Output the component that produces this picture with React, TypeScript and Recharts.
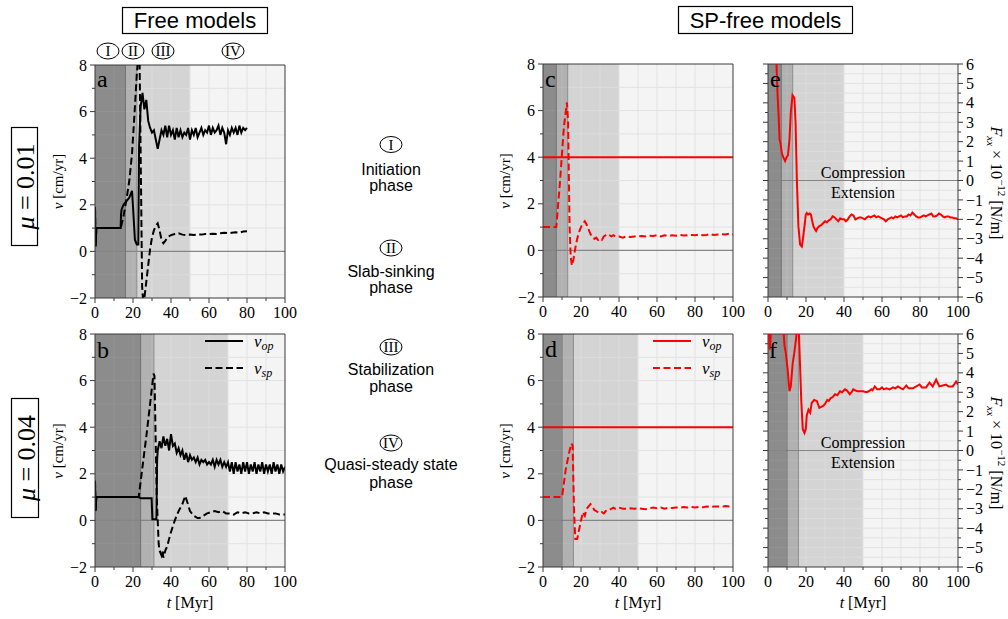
import React from "react";
import { LineChart, Line, XAxis, YAxis, ReferenceArea, ReferenceLine } from "recharts";

const SERIF = "'Liberation Serif', 'DejaVu Serif', serif";
const SANS = "'Liberation Sans', Arial, sans-serif";
const AXIS = "#3a3a3a";
const PHASE_FILL = ["#8c8c8c", "#b1b1b1", "#d4d4d4", "#f4f4f4"];
const PHASE_GRID = ["#939393", "#b9b9b9", "#dcdcdc", "#e2e2e2"];

// ticks / grid
const xTicks = [0, 10, 20, 30, 40, 50, 60, 70, 80, 90, 100];
const xGrid = [10, 20, 30, 40, 50, 60, 70, 80, 90];
const vTicks = [-2, -1, 0, 1, 2, 3, 4, 5, 6, 7, 8];
const vGrid = [-1, 1, 2, 3, 4, 5, 6, 7];
const fTicks = [-6, -5.5, -5, -4.5, -4, -3.5, -3, -2.5, -2, -1.5, -1, -0.5, 0, 0.5, 1, 1.5, 2, 2.5, 3, 3.5, 4, 4.5, 5, 5.5, 6];
const fGrid = [-5.5, -5, -4.5, -4, -3.5, -3, -2.5, -2, -1.5, -1, -0.5, 0.5, 1, 1.5, 2, 2.5, 3, 3.5, 4, 4.5, 5, 5.5];

// phase boundaries [Myr]: I | II | III | IV
const phasesA = [0, 16, 22, 50, 100];
const phasesB = [0, 24, 31, 70, 100];
const phasesC = [0, 7, 13, 40, 100];
const phasesD = [0, 10, 16, 50, 100];

// [t, v] series
const opA: [number, number][] = [[0,1.9],[0.3,0.2],[0.7,1],[13.5,1],[13.7,1.6],[14,1.8],[15,2],[16,2.1],[17,2.2],[18,2.3],[19,2.5],[19.5,2.6],[20.3,1.5],[21,0.5],[22,0.3],[22.8,0.3],[23.2,4.5],[24,6.2],[25,6.8],[26,6.1],[27,6.5],[28,5.6],[29,5.3],[30,5.1],[31,5.2],[32,4.8],[33,4.4],[34,4.8],[35,5.2],[36,5],[37,5.4],[38,4.9],[39,5.4],[40,5],[41,5.2],[42,4.8],[43,5.3],[44,4.9],[45,5.2],[46,4.9],[47,5.1],[48,5],[49,5.3],[50,4.8],[51,5.2],[52,5],[53,5.3],[54,4.9],[55,5.1],[56,5.3],[57,5],[58,5.2],[59,5.1],[60,5.4],[61,5],[62,5.3],[63,5.1],[64,5.2],[65,5.4],[66,5],[67,5.3],[68,5.1],[69,4.6],[70,5.2],[71,5],[72,5.3],[73,5.1],[74,5.3],[75,5],[76,5.4],[77,5.1],[78,5.3],[79,5.2],[80,5.3]];
const spA: [number, number][] = [[0,1.9],[0.3,0.2],[0.7,1],[13.5,1],[15,1.5],[16.5,2.2],[18,3],[19.5,4.2],[21,6.2],[22,7.6],[23,8.6],[23.4,8.6],[24.2,3],[24.8,-1.5],[25.3,-2.1],[26,-2],[27,-1.3],[28,-0.6],[29,0.1],[30,0.6],[31,0.9],[32,1.1],[33,1.2],[34,0.9],[35,0.5],[36,0.35],[37,0.45],[38,0.6],[39,0.65],[40,0.7],[42,0.75],[44,0.78],[46,0.72],[48,0.7],[50,0.72],[52,0.7],[54,0.72],[56,0.72],[58,0.75],[60,0.74],[62,0.76],[64,0.75],[66,0.78],[68,0.8],[70,0.78],[72,0.8],[74,0.82],[76,0.8],[78,0.85],[80,0.86]];

const opB: [number, number][] = [[0,1.7],[0.3,0.4],[0.7,1],[23,1],[24,0.95],[29.8,0.95],[30.2,0.05],[32.3,0.05],[32.7,2.6],[33,3],[34,3.4],[35,3.1],[36,3.6],[37,3.2],[38,3.5],[39,3],[40,3.7],[41,3.2],[42,3.3],[43,2.9],[44,3.1],[45,2.8],[46,3],[47,2.6],[48,2.9],[49,2.5],[50,2.8],[51,2.6],[52,2.7],[53,2.5],[54,2.7],[55,2.4],[56,2.6],[57,2.5],[58,2.6],[59,2.4],[60,2.5],[61,2.4],[62,2.6],[63,2.3],[64,2.6],[65,2.4],[66,2.6],[67,2.3],[68,2.5],[69,2.3],[70,2.5],[71,2.1],[72,2.5],[73,2],[74,2.5],[75,2.1],[76,2.4],[77,2],[78,2.5],[79,2.1],[80,2.5],[81,2],[82,2.4],[83,2.1],[84,2.5],[85,2],[86,2.4],[87,2.1],[88,2.5],[89,2],[90,2.4],[91,2.1],[92,2.4],[93,2],[94,2.5],[95,2.1],[96,2.4],[97,2],[98,2.4],[99,2.1],[100,2.3]];
const spB: [number, number][] = [[0,1.7],[0.3,0.4],[0.7,1],[23,1],[25,2.3],[27,3.6],[29,5],[30.8,6.3],[31.3,6.2],[32.5,1],[33.5,-1],[34,-1.3],[35,-1.5],[35.5,-1.3],[36,-1.6],[37,-1.3],[38,-1.1],[39,-0.8],[40,-0.5],[42,0],[44,0.4],[46,0.7],[47.5,1.05],[48.5,0.8],[50,0.4],[52,0.2],[54,0.1],[55,0.1],[57,0.2],[59,0.3],[61,0.35],[63,0.4],[65,0.35],[67,0.4],[69,0.3],[71,0.3],[73,0.25],[75,0.35],[77,0.3],[79,0.35],[81,0.3],[83,0.3],[85,0.35],[87,0.3],[89,0.35],[91,0.3],[93,0.3],[95,0.3],[97,0.25],[100,0.25]];

const opC: [number, number][] = [[0,4],[100,4]];
const spC: [number, number][] = [[0,1],[7,1],[9,3],[11,5.3],[12.6,6.35],[13.2,5.5],[14,1],[14.6,-0.3],[15.2,-0.65],[16,-0.4],[17,0.1],[18,0.5],[19,0.8],[20,1],[21,1.15],[22,1.25],[23,1.1],[24,0.9],[25,0.7],[26,0.55],[27,0.5],[28,0.55],[29,0.45],[30,0.5],[31,0.45],[32,0.6],[33,0.65],[34,0.7],[35,0.65],[36,0.6],[37,0.65],[38,0.6],[40,0.6],[42,0.55],[44,0.6],[46,0.58],[48,0.6],[50,0.6],[52,0.62],[54,0.6],[56,0.63],[58,0.62],[60,0.65],[62,0.6],[64,0.65],[66,0.62],[68,0.65],[70,0.63],[72,0.66],[74,0.64],[76,0.65],[78,0.66],[80,0.65],[82,0.68],[84,0.65],[86,0.66],[88,0.7],[90,0.66],[92,0.68],[94,0.7],[96,0.68],[98,0.72],[100,0.68]];

const opD: [number, number][] = [[0,4],[100,4]];
const spD: [number, number][] = [[0,1],[10,1],[11,1.6],[12,2.2],[13,2.6],[14,3],[15,3.3],[15.6,3.2],[16.3,0.5],[17,-0.8],[18,-0.8],[19,-0.4],[20,0],[21,0.35],[22,0.2],[23,0.5],[24,0.6],[25,0.7],[26,0.6],[27,0.45],[28,0.4],[29,0.35],[30,0.3],[31,0.35],[32,0.3],[33,0.4],[34,0.4],[35,0.45],[36,0.5],[37,0.55],[38,0.5],[40,0.55],[42,0.5],[44,0.5],[46,0.52],[48,0.5],[50,0.52],[52,0.5],[54,0.48],[56,0.52],[58,0.55],[60,0.52],[62,0.55],[64,0.5],[66,0.55],[68,0.53],[70,0.55],[72,0.55],[74,0.57],[76,0.55],[78,0.58],[80,0.55],[82,0.58],[84,0.56],[86,0.6],[88,0.57],[90,0.6],[92,0.6],[94,0.58],[96,0.62],[98,0.6],[100,0.6]];

// Fxx x 1e-12 [N/m]
const fxE: [number, number][] = [[0,9],[3,8],[4.4,6.2],[5,4.5],[5.6,3.3],[6.1,2.1],[6.6,1.9],[7.3,1.4],[8,1.2],[9,1],[9.8,1.2],[10.5,1.3],[11.3,2.1],[12,3.5],[12.9,4.4],[13.9,4.25],[14.5,3],[15.2,0],[16,-2.35],[16.9,-3.3],[17.8,-3.4],[18.4,-3],[19,-2.5],[19.5,-2.1],[19.9,-1.75],[20.4,-1.67],[21,-1.75],[22,-1.7],[22.6,-1.75],[23.3,-2.1],[23.9,-2.35],[24.6,-2.5],[25.3,-2.6],[26,-2.45],[27,-2.35],[28,-2.3],[29,-2.2],[30,-2.1],[31,-2.15],[32,-2.05],[33,-2],[34,-1.85],[35,-1.9],[36,-2],[37,-2.1],[38,-1.95],[39,-2],[40,-2],[41,-2.1],[42,-2],[43,-1.85],[44,-1.75],[45,-1.8],[46,-2],[47,-1.95],[48,-1.9],[49,-1.9],[50,-1.95],[51,-2],[52,-1.9],[53,-1.85],[54,-1.9],[55,-1.85],[56,-1.8],[57,-1.9],[58,-1.85],[59,-1.9],[60,-1.95],[61,-2],[62,-2.1],[63,-2],[64,-1.95],[65,-1.9],[66,-1.95],[67,-1.85],[68,-1.9],[69,-1.85],[70,-1.8],[71,-1.9],[72,-1.85],[73,-1.85],[74,-1.75],[75,-1.8],[76,-1.65],[77,-1.75],[78,-1.85],[79,-1.9],[80,-1.9],[81,-1.85],[82,-1.8],[83,-1.85],[84,-1.8],[85,-1.75],[86,-1.7],[87,-1.85],[88,-1.85],[89,-1.8],[90,-1.7],[91,-1.75],[92,-1.85],[93,-1.9],[94,-1.85],[95,-1.85],[96,-1.9],[97,-1.9],[98,-1.95],[99,-1.95],[100,-2]];
const fxF: [number, number][] = [[0,8],[0.5,6.6],[0.9,5.2],[1.3,5.6],[1.8,7],[4,8],[7,8],[8,6.4],[8.7,5.4],[9.4,5],[10.3,4.2],[11.3,3.05],[12,3.3],[13,4.5],[13.8,5],[14.7,5.7],[15.2,6.2],[16.2,6.2],[16.9,4.3],[17.5,2.6],[18.3,1.1],[19.2,0.9],[19.9,1.1],[20.4,1.8],[21.3,2.1],[22.2,1.95],[23,2.45],[24.3,2.6],[25.7,2.55],[27,2.2],[28,2.25],[29,2.3],[30,2.4],[31.2,2.6],[32,2.55],[33,2.7],[34,2.75],[35.3,2.9],[36.5,2.85],[37.9,3.05],[39,3],[40.5,3.15],[41.5,3.1],[43,2.9],[44,3],[44.9,3.15],[46,3.1],[47,3.05],[48.3,3.05],[50,3.05],[51.8,3],[53,3.05],[54.4,3.15],[55,3.1],[56.2,3.3],[57.5,3.15],[58.8,3.15],[60,3.25],[61,3.15],[62.3,3.2],[64,3.15],[65.8,3.25],[67,3.2],[68.4,3.3],[70,3.2],[71,3.15],[72.8,3.35],[74,3.2],[76.3,3.2],[78,3.3],[79.8,3.4],[81,3.25],[83.2,3.25],[85,3.5],[86.7,3.3],[88.5,3.65],[90.2,3.3],[92,3.35],[93.7,3.4],[95,3.3],[97.2,3.3],[98,3.4],[99,3.55],[100,3.4]];

const pts = (s: [number, number][]) => s.map(([t, v]) => ({ t, v }));

const PW = 190;
const PH = 233;
const LEFT_W = 50;
const TOP = 14;
const BOTTOM_H = 30;
const RIGHT_PAD = 16;

const fmt = (v: number) => (v < 0 ? "\u2212" + Math.abs(v) : String(v));

function XTick(props: any) {
  const { x, y, payload } = props;
  const v = payload.value as number;
  const major = v % 20 === 0;
  return (
    <g>
      <line x1={x} x2={x} y1={y} y2={y + (major ? 5 : 3)} stroke={AXIS} />
      {major && (
        <text x={x} y={y + 20} textAnchor="middle" fontSize={16} fontFamily={SERIF} fill="#000">
          {v}
        </text>
      )}
    </g>
  );
}

function YTick(props: any) {
  const { x, y, payload, step, side, showLabel } = props;
  const v = payload.value as number;
  const isMajor = Math.abs(v / step - Math.round(v / step)) < 1e-6;
  const dir = side === "left" ? -1 : 1;
  const len = isMajor ? 5 : 3;
  return (
    <g>
      <line x1={x} x2={x + dir * len} y1={y} y2={y} stroke={AXIS} />
      {showLabel && isMajor && (
        <text x={x + dir * 8} y={y} dy="0.35em" textAnchor={side === "left" ? "end" : "start"} fontSize={16} fontFamily={SERIF} fill="#000">
          {fmt(v)}
        </text>
      )}
    </g>
  );
}

type Series = { data: { t: number; v: number }[]; color: string; dashed?: boolean };

function Panel({ left, top, phases, series, force }: { left: number; top: number; phases: number[]; series: Series[]; force?: boolean }) {
  const domain: [number, number] = force ? [-6, 6] : [-2, 8];
  const ticks = force ? fTicks : vTicks;
  const grid = force ? fGrid : vGrid;
  const step = force ? 1 : 2;
  const rightW = force ? 42 : 1;
  const regionOf = (x: number) => phases.findIndex((p, i) => i < phases.length - 1 && x >= p && x < phases[i + 1]);
  return (
    <div style={{ position: "absolute", left: left - LEFT_W, top: top - TOP }}>
      <LineChart width={LEFT_W + PW + rightW + RIGHT_PAD} height={TOP + PH + BOTTOM_H}
        margin={{ top: TOP, right: RIGHT_PAD, bottom: 0, left: 0 }}>
        <XAxis dataKey="t" type="number" domain={[0, 100]} ticks={xTicks} interval={0} allowDataOverflow height={BOTTOM_H}
          stroke={AXIS} tickLine={false} tickSize={0} tickMargin={0} tick={(p: any) => <XTick {...p} />} />
        <YAxis type="number" domain={domain} ticks={ticks} interval={0} allowDataOverflow width={LEFT_W}
          stroke={AXIS} tickLine={false} tickSize={0} tickMargin={0}
          tick={(p: any) => <YTick {...p} step={step} side="left" showLabel={!force} />} />
        <YAxis yAxisId="r" orientation="right" type="number" domain={domain} ticks={ticks} interval={0} allowDataOverflow width={rightW}
          stroke={AXIS} tickLine={false} tickSize={0} tickMargin={0}
          tick={force ? (p: any) => <YTick {...p} step={1} side="right" showLabel /> : false} />
        {phases.slice(0, -1).map((p, i) => (
          <ReferenceArea key={"ph" + i} x1={p} x2={phases[i + 1]} fill={PHASE_FILL[i]} fillOpacity={1} stroke="none" />
        ))}
        {phases.slice(0, -1).map((p, i) =>
          grid.map((g) => (
            <ReferenceLine key={`gy${i}_${g}`} segment={[{ x: p, y: g }, { x: phases[i + 1], y: g }]} stroke={PHASE_GRID[i]} />
          ))
        )}
        {xGrid.map((g) => <ReferenceLine key={"gx" + g} x={g} stroke={PHASE_GRID[regionOf(g)]} />)}
        <ReferenceLine y={0} stroke="#858585" strokeWidth={1.2} />
        <ReferenceLine x={phases[1]} stroke="#6e6e6e" />
        <ReferenceLine x={phases[2]} stroke="#8a8a8a" />
        <ReferenceLine y={domain[1]} stroke={AXIS} />
        {series.map((s, i) => (
          <Line key={i} data={s.data} dataKey="v" type="linear" stroke={s.color} strokeWidth={2}
            strokeDasharray={s.dashed ? "7 3.5" : undefined} dot={false} activeDot={false} isAnimationActive={false} />
        ))}
      </LineChart>
    </div>
  );
}

function Circled({ cx, cy, label, rx = 11 }: { cx: number; cy: number; label: string; rx?: number }) {
  return (
    <g>
      <ellipse cx={cx} cy={cy} rx={rx} ry={8} fill="#fff" stroke="#000" strokeWidth={1} />
      <text x={cx} y={cy} dy="0.36em" textAnchor="middle" fontSize={15} fontFamily={SERIF}>{label}</text>
    </g>
  );
}

function VLabel({ x, y }: { x: number; y: number }) {
  return (
    <text transform={`translate(${x},${y}) rotate(-90)`} textAnchor="middle" dy="0.35em" fontSize={15} fontFamily={SERIF}>
      <tspan fontStyle="italic">v</tspan> [cm/yr]
    </text>
  );
}

function TLabel({ x, y }: { x: number; y: number }) {
  return (
    <text x={x} y={y} textAnchor="middle" fontSize={16} fontFamily={SERIF}>
      <tspan fontStyle="italic">t</tspan> [Myr]
    </text>
  );
}

function FLabel({ x, y }: { x: number; y: number }) {
  return (
    <text transform={`translate(${x},${y}) rotate(90)`} textAnchor="middle" dy="0.35em" fontSize={16} fontFamily={SERIF}>
      <tspan fontStyle="italic">F</tspan>
      <tspan fontStyle="italic" fontSize={11} dy={4}>xx</tspan>
      <tspan dy={-4}>{" \u00d7 10"}</tspan>
      <tspan fontSize={11} dy={-7}>{"\u221212"}</tspan>
      <tspan dy={7}>{" [N/m]"}</tspan>
    </text>
  );
}

function Legend({ x, y, color }: { x: number; y: number; color: string }) {
  return (
    <g>
      <line x1={x} x2={x + 38} y1={y} y2={y} stroke={color} strokeWidth={2} />
      <text x={x + 49} y={y + 6} fontSize={17} fontFamily={SERIF} fontStyle="italic">
        v<tspan fontSize={12} dy={3}>op</tspan>
      </text>
      <line x1={x} x2={x + 38} y1={y + 27} y2={y + 27} stroke={color} strokeWidth={2} strokeDasharray="7 3.5" />
      <text x={x + 49} y={y + 33} fontSize={17} fontFamily={SERIF} fontStyle="italic">
        v<tspan fontSize={12} dy={3}>sp</tspan>
      </text>
    </g>
  );
}

function PanelText({ x, y, s }: { x: number; y: number; s: string }) {
  return <text x={x} y={y} fontSize={24} fontFamily={SERIF}>{s}</text>;
}

export default function App() {
  const black = "#000000";
  const red = "#ff0000";
  return (
    <div style={{ position: "absolute", left: 0, top: 0, width: 1008, height: 619, background: "#fff", overflow: "hidden" }}>
      <Panel left={95} top={65} phases={phasesA} series={[{ data: pts(opA), color: black }, { data: pts(spA), color: black, dashed: true }]} />
      <Panel left={95} top={334} phases={phasesB} series={[{ data: pts(opB), color: black }, { data: pts(spB), color: black, dashed: true }]} />
      <Panel left={543} top={64} phases={phasesC} series={[{ data: pts(opC), color: red }, { data: pts(spC), color: red, dashed: true }]} />
      <Panel left={543} top={334} phases={phasesD} series={[{ data: pts(opD), color: red }, { data: pts(spD), color: red, dashed: true }]} />
      <Panel left={768} top={64} phases={phasesC} series={[{ data: pts(fxE), color: red }]} force />
      <Panel left={768} top={334} phases={phasesD} series={[{ data: pts(fxF), color: red }]} force />

      <svg width={1008} height={619} style={{ position: "absolute", left: 0, top: 0, pointerEvents: "none" }}>
        <rect x={122.5} y={7.5} width={145} height={26} fill="none" stroke="#000" strokeWidth={1.2} />
        <text x={195} y={28} textAnchor="middle" fontSize={22} fontFamily={SANS}>Free models</text>
        <rect x={678.5} y={6.5} width={174} height={27} fill="none" stroke="#000" strokeWidth={1.2} />
        <text x={765.5} y={28} textAnchor="middle" fontSize={22} fontFamily={SANS}>SP-free models</text>

        <rect x={11.5} y={127.5} width={26} height={118} fill="#fff" stroke="#000" strokeWidth={1.2} />
        <text transform="translate(25,186.5) rotate(-90)" textAnchor="middle" dy="0.35em" fontSize={26} fontFamily={SERIF}>
          <tspan fontStyle="italic">μ</tspan> = 0.01
        </text>
        <rect x={11.5} y={398.5} width={27} height={119} fill="#fff" stroke="#000" strokeWidth={1.2} />
        <text transform="translate(25.5,458) rotate(-90)" textAnchor="middle" dy="0.35em" fontSize={26} fontFamily={SERIF}>
          <tspan fontStyle="italic">μ</tspan> = 0.04
        </text>

        <Circled cx={108} cy={51} label="I" />
        <Circled cx={133} cy={51} label="II" />
        <Circled cx={163} cy={51} label="III" />
        <Circled cx={233} cy={51} label="IV" />

        <Circled cx={391} cy={144.5} label="I" />
        <text x={391} y={175} textAnchor="middle" fontSize={16} fontFamily={SANS}>Initiation</text>
        <text x={391} y={191} textAnchor="middle" fontSize={16} fontFamily={SANS}>phase</text>
        <Circled cx={391} cy={248} label="II" />
        <text x={391} y={277} textAnchor="middle" fontSize={16} fontFamily={SANS}>Slab-sinking</text>
        <text x={391} y={293} textAnchor="middle" fontSize={16} fontFamily={SANS}>phase</text>
        <Circled cx={391} cy={347} label="III" />
        <text x={391} y={375} textAnchor="middle" fontSize={16} fontFamily={SANS}>Stabilization</text>
        <text x={391} y={392} textAnchor="middle" fontSize={16} fontFamily={SANS}>phase</text>
        <Circled cx={391} cy={443} label="IV" />
        <text x={391} y={470} textAnchor="middle" fontSize={16} fontFamily={SANS}>Quasi-steady state</text>
        <text x={391} y={488} textAnchor="middle" fontSize={16} fontFamily={SANS}>phase</text>

        <VLabel x={58} y={181.5} />
        <VLabel x={58} y={451} />
        <VLabel x={505} y={181} />
        <VLabel x={505} y={451} />
        <TLabel x={190} y={608} />
        <TLabel x={638} y={608} />
        <TLabel x={863} y={608} />
        <FLabel x={997} y={183} />
        <FLabel x={997} y={453} />

        <PanelText x={97} y={87} s="a" />
        <PanelText x={97} y={358} s="b" />
        <PanelText x={545} y={87} s="c" />
        <PanelText x={545} y={357} s="d" />
        <PanelText x={770} y={87} s="e" />
        <PanelText x={769} y={358} s="f" />

        <text x={863} y={178} textAnchor="middle" fontSize={16} fontFamily={SERIF}>Compression</text>
        <text x={863} y={198} textAnchor="middle" fontSize={16} fontFamily={SERIF}>Extension</text>
        <text x={863} y={448} textAnchor="middle" fontSize={16} fontFamily={SERIF}>Compression</text>
        <text x={863} y={468} textAnchor="middle" fontSize={16} fontFamily={SERIF}>Extension</text>

        <Legend x={205} y={341} color="#000" />
        <Legend x={653} y={341} color="#ff0000" />
      </svg>
    </div>
  );
}
